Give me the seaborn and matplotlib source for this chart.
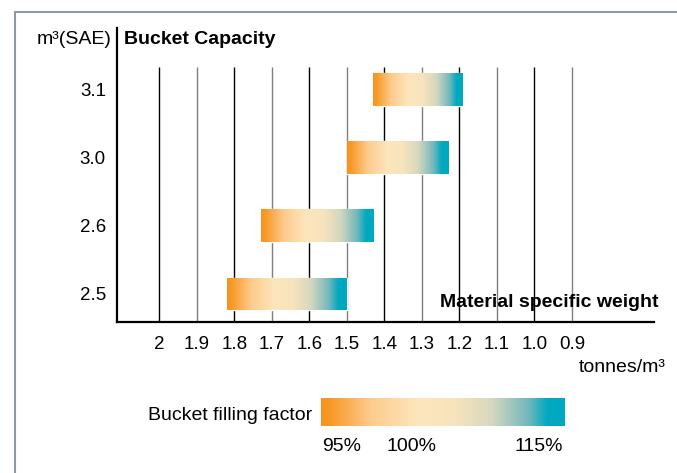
import numpy as np
import matplotlib.pyplot as plt
import seaborn as sns
from matplotlib.colors import LinearSegmentedColormap
from matplotlib.patches import Rectangle

sns.set_style("white")
plt.rcParams['font.family'] = ['Liberation Sans', 'DejaVu Sans']
plt.rcParams['text.color'] = 'black'
plt.rcParams['xtick.color'] = 'black'
plt.rcParams['ytick.color'] = 'black'

# bucket capacity (m3 SAE), bottom to top
capacities = ['2.5', '2.6', '3.0', '3.1']
# material specific weight range covered by each bucket (tonnes/m3)
weight_heavy = [1.82, 1.73, 1.50, 1.43]
weight_light = [1.50, 1.43, 1.23, 1.19]

weight_ticks = [2.0, 1.9, 1.8, 1.7, 1.6, 1.5, 1.4, 1.3, 1.2, 1.1, 1.0, 0.9]
weight_labels = ['2', '1.9', '1.8', '1.7', '1.6', '1.5', '1.4', '1.3', '1.2', '1.1', '1.0', '0.9']
fill_labels = ['95%', '100%', '115%']

W, H = 677, 473
FS = 14
TICK_FS = 13.5
cmap = LinearSegmentedColormap.from_list('fill', [
    (0.0, '#F7941D'), (0.04, '#F89A28'), (0.2, '#FDCB8C'), (0.4, '#FDE6BD'),
    (0.55, '#F7E3BC'), (0.7, '#D6D8BF'), (0.85, '#74B8BD'), (0.93, '#00A9BF'),
    (1.0, '#00A9BF')])
grad = np.linspace(0, 1, 256).reshape(1, -1)

fig = plt.figure(figsize=(W / 100, H / 100), dpi=100)
ax = fig.add_axes([117 / W, 151.5 / H, 537 / W, 293.5 / H])

pos = np.arange(len(capacities))
line_colors = ['black' if i % 2 == 0 else '#7f7f7f' for i in range(len(weight_ticks))]
ax.vlines(weight_ticks, -0.404, 3.32, colors=line_colors, lw=1, zorder=1)

bar_h = 0.48
widths = np.array(weight_light) - np.array(weight_heavy)
bars = ax.barh(pos, widths, left=weight_heavy, height=bar_h, color='none', zorder=2)
for bar, x0, x1, y in zip(bars, weight_heavy, weight_light, pos):
    im = ax.imshow(grad, cmap=cmap, aspect='auto', zorder=2,
                   extent=[x0, x1, y - bar_h / 2, y + bar_h / 2])
    im.set_clip_path(bar)

ax.set_xlim(2.113, 0.681)
ax.set_ylim(-0.404, 3.897)
ax.set_xticks(weight_ticks, weight_labels)
ax.set_yticks(pos, capacities)
ax.tick_params(axis='x', length=0, labelsize=TICK_FS, pad=10.5)
ax.tick_params(axis='y', length=0, labelsize=TICK_FS, pad=8)
sns.despine(ax=ax)
for side in ['left', 'bottom']:
    ax.spines[side].set_color('black')
    ax.spines[side].set_linewidth(1.6)

fig.text(112 / W, 1 - 40 / H, 'm³(SAE)', ha='right', va='center', fontsize=FS)
fig.text(124 / W, 1 - 40 / H, 'Bucket Capacity', ha='left', va='center',
         fontsize=FS, fontweight='bold')
fig.text(659 / W, 1 - 302 / H, 'Material specific weight', ha='right', va='center',
         fontsize=FS, fontweight='bold')
fig.text(666 / W, 1 - 367 / H, 'tonnes/m³', ha='right', va='center', fontsize=FS)

# legend gradient
cax = fig.add_axes([321 / W, 47 / H, 244 / W, 28 / H])
cax.imshow(grad, cmap=cmap, aspect='auto')
cax.axis('off')
fig.text(312 / W, 1 - 415 / H, 'Bucket filling factor', ha='right', va='center', fontsize=FS)
fig.text(322 / W, 1 - 446 / H, fill_labels[0], ha='left', va='center', fontsize=FS)
fig.text(411 / W, 1 - 446 / H, fill_labels[1], ha='center', va='center', fontsize=FS)
fig.text(563 / W, 1 - 446 / H, fill_labels[2], ha='right', va='center', fontsize=FS)

# outer frame
fig.add_artist(Rectangle((15 / W, -0.1), 1.2, 1 - 12 / H + 0.1, transform=fig.transFigure,
                         fill=False, edgecolor='#8C9BA5', lw=1.5))

fig.savefig('out.png', dpi=100)
